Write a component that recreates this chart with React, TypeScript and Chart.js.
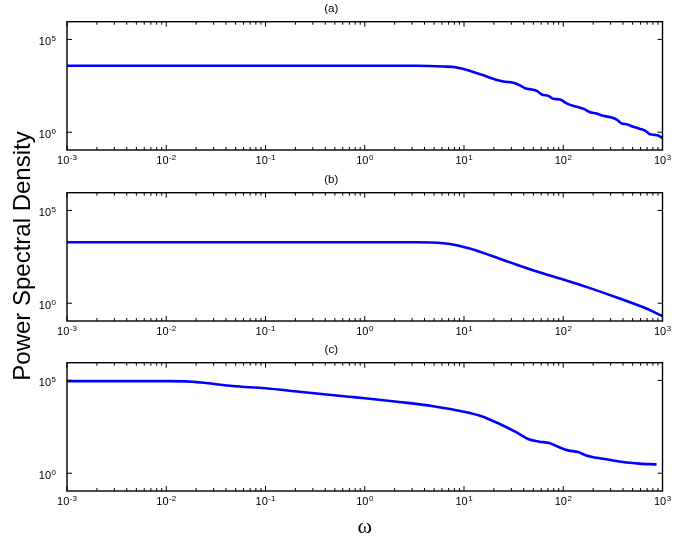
import React, { useEffect, useRef } from 'react';
import Chart from 'chart.js/auto';

// ---- data ----
const omegaA = [0.001, 0.01, 0.1, 1, 3.34, 6.2, 8.45, 9.86, 12.4, 15.7, 18.3, 21.4, 24.9, 31.5, 36.7, 41.2, 48.2, 54.1, 60.7, 70.8, 79.6, 92.9, 108, 137, 160, 186, 217, 253, 308, 346, 388, 436, 508, 594, 667, 748, 840, 908, 1000];
const psdA = [3800, 3800, 3800, 3800, 3800, 3470, 3090, 2510, 1780, 1175, 851, 646, 537, 457, 331, 234, 200, 170, 107, 91, 63, 58, 35.5, 23.4, 18.2, 12.0, 10.2, 7.6, 6.2, 4.8, 2.95, 2.7, 1.95, 1.51, 1.23, 0.78, 0.72, 0.66, 0.48];

const omegaB = [0.001, 0.01, 0.1, 1, 3.34, 6.2, 8.45, 9.86, 13.5, 18.3, 24.9, 34.0, 54.1, 100, 186, 346, 641, 1000];
const psdB = [1930, 1930, 1930, 1930, 1930, 1700, 1320, 1070, 676, 380, 214, 117, 51, 19, 6.5, 2.04, 0.6, 0.204];

const omegaC = [0.001, 0.01, 0.0158, 0.0251, 0.0468, 0.1, 0.219, 0.69, 1, 2.24, 4.9, 10, 15.5, 22.9, 33.9, 45.7, 57.5, 72.4, 91.2, 112, 141, 170, 251, 398, 589, 871];
const psdC = [91000, 91000, 89000, 72000, 50000, 37500, 24500, 13200, 11000, 6900, 4070, 2040, 1100, 447, 158, 65, 50, 42, 25, 17, 13.8, 9.1, 6.0, 4.0, 3.3, 3.0];

const xTickValues = [0.001, 0.01, 0.1, 1, 10, 100, 1000];
const xTickExponents = ['-3', '-2', '-1', '0', '1', '2', '3'];
const yTickValues = [1, 100000];
const yTickExponents = ['0', '5'];
const panelTitles = ['(a)', '(b)', '(c)'];
const yTitle = 'Power Spectral Density';
const xTitle = 'ω';

const X_MIN = 0.001;
const X_MAX = 1000;
const Y_MIN = 0.11;
const Y_MAX = 900000;

const SANS = 'Liberation Sans, Arial, sans-serif';
const BASE_FONT = `11px ${SANS}`;
const SUP_FONT = `8px ${SANS}`;

function drawPower(ctx: CanvasRenderingContext2D, exp: string, x: number, baseline: number, align: 'center' | 'right') {
  ctx.font = BASE_FONT;
  const wb = ctx.measureText('10').width;
  ctx.font = SUP_FONT;
  const we = ctx.measureText(exp).width;
  const total = wb + we + 0.5;
  const x0 = align === 'center' ? x - total / 2 : x - total;
  ctx.textAlign = 'left';
  ctx.textBaseline = 'alphabetic';
  ctx.fillStyle = '#000';
  ctx.font = BASE_FONT;
  ctx.fillText('10', x0, baseline);
  ctx.font = SUP_FONT;
  ctx.fillText(exp, x0 + wb + 0.5, baseline - 4.5);
}

const boxTicks = {
  id: 'boxTicks',
  afterDatasetsDraw(chart: any) {
    const { ctx, chartArea: a, scales } = chart;
    const xs = scales.x;
    const ys = scales.y;
    ctx.save();
    ctx.strokeStyle = '#000';
    ctx.lineWidth = 1;
    ctx.beginPath();
    for (const v of xTickValues) {
      const p = xs.getPixelForValue(v);
      ctx.moveTo(p, a.bottom);
      ctx.lineTo(p, a.bottom - 5);
      ctx.moveTo(p, a.top);
      ctx.lineTo(p, a.top + 5);
    }
    for (let k = 0; k < xTickValues.length - 1; k++) {
      for (let m = 2; m <= 9; m++) {
        const p = xs.getPixelForValue(m * xTickValues[k]);
        ctx.moveTo(p, a.bottom);
        ctx.lineTo(p, a.bottom - 3);
        ctx.moveTo(p, a.top);
        ctx.lineTo(p, a.top + 3);
      }
    }
    for (const v of yTickValues) {
      const p = ys.getPixelForValue(v);
      ctx.moveTo(a.left, p);
      ctx.lineTo(a.left + 5, p);
      ctx.moveTo(a.right, p);
      ctx.lineTo(a.right - 5, p);
    }
    ctx.stroke();
    ctx.lineWidth = 1.4;
    ctx.strokeRect(a.left, a.top, a.right - a.left, a.bottom - a.top);

    // tick labels with superscript exponents
    xTickValues.forEach((v, i) => {
      drawPower(ctx, xTickExponents[i], xs.getPixelForValue(v), a.bottom + 14, 'center');
    });
    yTickValues.forEach((v, i) => {
      drawPower(ctx, yTickExponents[i], a.left - 11, ys.getPixelForValue(v) + 6, 'right');
    });
    ctx.restore();
  },
};

type PanelProps = {
  omega: number[];
  psd: number[];
  title: string;
  top: number;
  height: number;
  showXTitle: boolean;
};

function Panel({ omega, psd, title, top, height, showXTitle }: PanelProps) {
  const ref = useRef<HTMLCanvasElement | null>(null);
  useEffect(() => {
    if (!ref.current) return;
    const chart = new Chart(ref.current, {
      type: 'line',
      data: {
        datasets: [
          {
            data: omega.map((x, i) => ({ x, y: psd[i] })),
            borderColor: '#0000ff',
            borderWidth: 2.6,
            pointRadius: 0,
            fill: false,
            cubicInterpolationMode: 'monotone',
          },
        ],
      },
      options: {
        responsive: false,
        animation: false,
        events: [],
        layout: { padding: { left: 0, right: 34.5, top: 0, bottom: 0 } },
        plugins: {
          legend: { display: false },
          tooltip: { enabled: false },
          title: {
            display: true,
            text: title,
            color: '#000',
            font: { family: SANS, size: 11.5, weight: 'normal', lineHeight: 1.2 },
            padding: { top: 2, bottom: 5.9 },
          },
        },
        scales: {
          x: {
            type: 'logarithmic',
            min: X_MIN,
            max: X_MAX,
            grid: { display: false, drawTicks: false },
            border: { display: false },
            afterBuildTicks: (s: any) => {
              s.ticks = xTickValues.map((v) => ({ value: v }));
            },
            afterFit: (s: any) => {
              s.height = height - 150;
            },
            ticks: { display: false, autoSkip: false, maxRotation: 0, minRotation: 0 },
            title: {
              display: showXTitle,
              text: xTitle,
              color: '#000',
              font: { family: 'Liberation Serif, Times New Roman, serif', size: 22, lineHeight: 1.2 },
              padding: { top: 0, bottom: 1 },
            },
          },
          y: {
            type: 'logarithmic',
            min: Y_MIN,
            max: Y_MAX,
            grid: { display: false, drawTicks: false },
            border: { display: false },
            afterBuildTicks: (s: any) => {
              s.ticks = yTickValues.map((v) => ({ value: v }));
            },
            afterFit: (s: any) => {
              s.width = 67;
            },
            ticks: { display: false, autoSkip: false },
          },
        },
      } as any,
      plugins: [boxTicks],
    });
    return () => chart.destroy();
  }, [omega, psd, title, height, showXTitle]);
  return (
    <canvas
      ref={ref}
      width={697}
      height={height}
      style={{ position: 'absolute', left: 0, top, width: 697, height, display: 'block' }}
    />
  );
}

export default function App() {
  return (
    <div style={{ position: 'absolute', left: 0, top: 0, width: 697, height: 541, background: '#fff', overflow: 'hidden' }}>
      <Panel omega={omegaA} psd={psdA} title={panelTitles[0]} top={0} height={170} showXTitle={false} />
      <Panel omega={omegaB} psd={psdB} title={panelTitles[1]} top={170.5} height={170} showXTitle={false} />
      <Panel omega={omegaC} psd={psdC} title={panelTitles[2]} top={341} height={200} showXTitle={true} />
      <div
        style={{
          position: 'absolute',
          left: 21.5 - 150,
          top: 256 - 15,
          width: 300,
          height: 30,
          lineHeight: '30px',
          textAlign: 'center',
          transform: 'rotate(-90deg)',
          fontFamily: SANS,
          fontSize: 24,
          color: '#000',
          whiteSpace: 'nowrap',
        }}
      >
        {yTitle}
      </div>
    </div>
  );
}
